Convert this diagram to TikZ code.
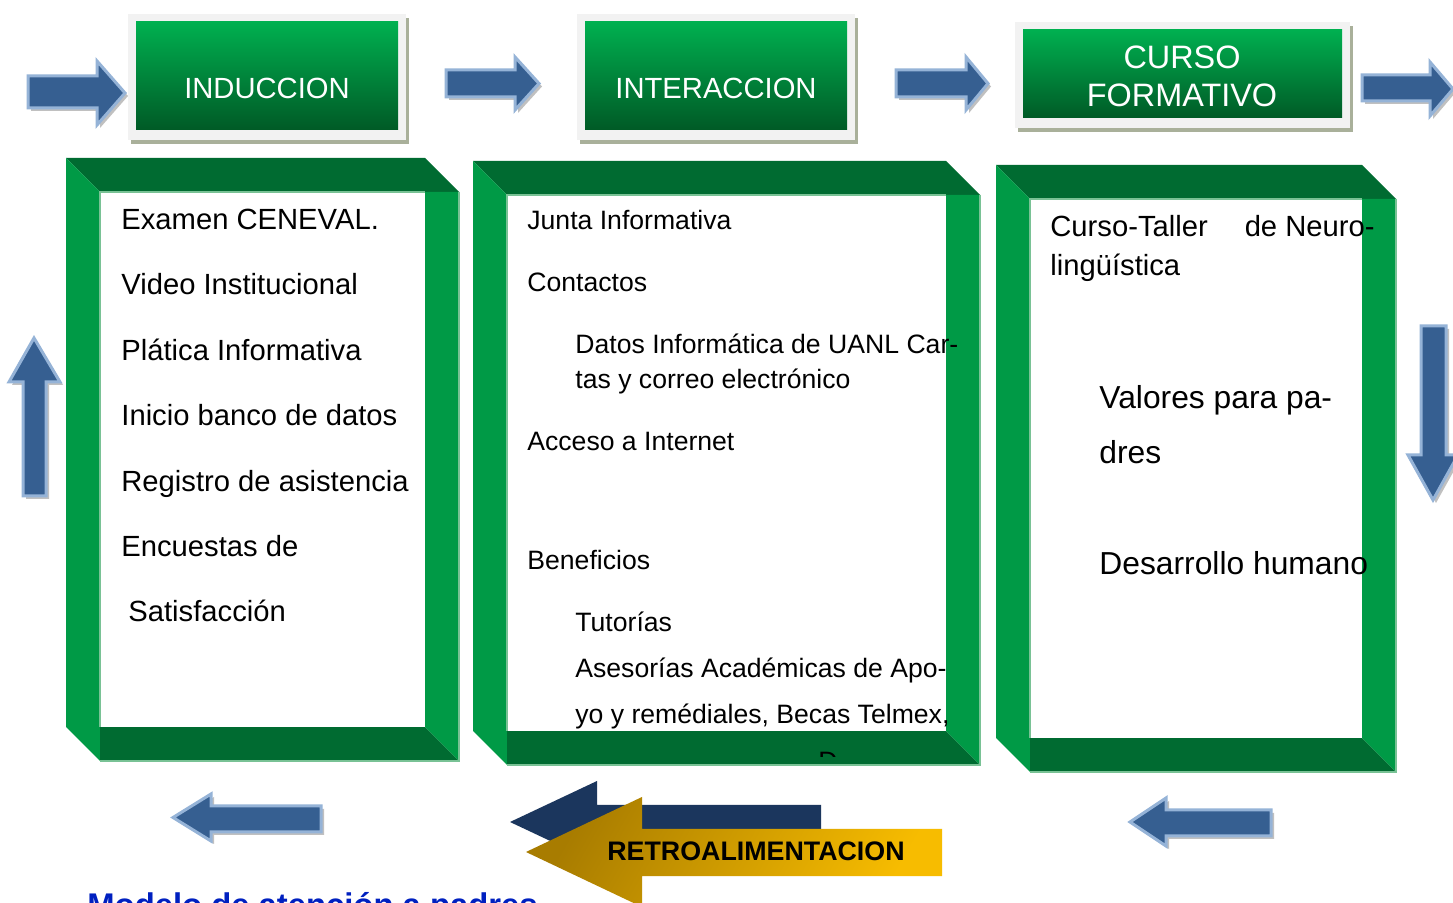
\documentclass[tikz,border=0pt]{standalone}
\usepackage{fontspec}
\setmainfont{Liberation Sans}
\definecolor{gbright}{HTML}{009A46}
\definecolor{gdark}{HTML}{006B31}
\definecolor{gline}{HTML}{79C295}
\definecolor{gtop}{HTML}{00B050}
\definecolor{gbot}{HTML}{005A26}
\definecolor{ablue}{HTML}{365F91}
\definecolor{aedge}{HTML}{95B3D7}
\definecolor{ashadow}{HTML}{A6A6A6}
\definecolor{navy}{HTML}{1B365D}
\definecolor{golddark}{HTML}{A87C00}
\definecolor{goldlight}{HTML}{F7BC00}
\definecolor{titleblue}{HTML}{0020C0}
\definecolor{boxgray}{HTML}{F2F2F2}
\definecolor{boxshadow}{HTML}{A9B09A}
\newcommand{\bevelframe}[5]{%
 \fill[gdark] (#1,#2) -- (#3-#5,#2) -- (#3,#2+#5) -- (#1+#5,#2+#5) -- cycle;
 \fill[gbright] (#1,#2) -- (#1+#5,#2+#5) -- (#1+#5,#4) -- (#1,#4-#5) -- cycle;
 \fill[gdark] (#1+#5,#4-#5) -- (#3-#5,#4-#5) -- (#3,#4) -- (#1+#5,#4) -- cycle;
 \fill[gbright] (#3-#5,#2+#5) -- (#3,#2+#5) -- (#3,#4) -- (#3-#5,#4-#5) -- cycle;
 \fill[white] (#1+#5,#2+#5) rectangle (#3-#5,#4-#5);
 \draw[gline, line width=1pt] (#1+#5,#4-#5) -- (#1+#5,#2+#5) -- (#3-#5,#2+#5);
 \draw[gline, line width=1pt] (#3,#2+#5) -- (#3,#4) -- (#1+#5,#4);
}
\newcommand{\greenbox}[5]{% gray x0 y0 x1 y1 , inset
 \fill[boxshadow] (#1+3,#2+4) rectangle (#3+3,#4+4);
 \fill[boxgray] (#1,#2) rectangle (#3,#4);
 \fill[top color=gtop, bottom color=gbot] (#1+#5,#2+#5) rectangle (#3-#5,#4-#5-2);
}
\tikzset{
 blockarrow/.style={fill=ablue, draw=aedge, line width=1.5pt, line join=miter},
 arrowshadow/.style={fill=ashadow, opacity=0.7},
 lt/.style={anchor=base west, inner sep=0pt, font=\fontsize{14.6}{17}\selectfont},
 mt/.style={anchor=base west, inner sep=0pt, font=\fontsize{13.3}{16}\selectfont},
 rt/.style={anchor=base west, inner sep=0pt, font=\fontsize{15.9}{19}\selectfont},
 boxtext/.style={inner sep=0pt, text=white, align=center, font=\fontsize{14.6}{19}\selectfont},
}
\newcommand{\rarrow}[7]{% x0 xh xt ys1 ys2 yh1 yh2
 \fill[arrowshadow] (#1+3,#4+3) -- (#2+3,#4+3) -- (#2+3,#6+3) -- (#3+3,#6/2+#7/2+3) -- (#2+3,#7+3) -- (#2+3,#5+3) -- (#1+3,#5+3) -- cycle;
 \draw[blockarrow] (#1,#4) -- (#2,#4) -- (#2,#6) -- (#3,#6/2+#7/2) -- (#2,#7) -- (#2,#5) -- (#1,#5) -- cycle;
}
\newcommand{\larrow}[7]{% xend xh xtip ys1 ys2 yh1 yh2
 \fill[arrowshadow] (#1+3,#4+3) -- (#2+3,#4+3) -- (#2+3,#6+3) -- (#3+3,#6/2+#7/2+3) -- (#2+3,#7+3) -- (#2+3,#5+3) -- (#1+3,#5+3) -- cycle;
 \draw[blockarrow] (#1,#4) -- (#2,#4) -- (#2,#6) -- (#3,#6/2+#7/2) -- (#2,#7) -- (#2,#5) -- (#1,#5) -- cycle;
}
\begin{document}
\begin{tikzpicture}[x=0.5pt,y=-0.5pt]
\clip (0,0) rectangle (1453,903);
\fill[white] (0,0) rectangle (1453,903);

% top boxes
\greenbox{128}{14}{406}{140}{8}
\greenbox{577}{14}{855}{140}{8}
\greenbox{1015}{22}{1350}{128}{8}
\node[boxtext] (ind) at (267,88) {INDUCCION};
\node[boxtext] (inter) at (716,88) {INTERACCION};
\node[boxtext, font=\fontsize{16.2}{19}\selectfont] (curso) at (1182,76) {CURSO\\FORMATIVO};

% top arrows
\rarrow{28}{97}{125}{76}{108}{61}{125}
\rarrow{446}{515}{539}{70}{97}{57}{110}
\rarrow{896}{966}{988}{70}{97}{57}{110}
\rarrow{1362}{1430}{1453}{75}{101}{62}{116}

% vertical arrows
\fill[arrowshadow] (26,499) -- (26,385) -- (12,385) -- (37,341) -- (63,385) -- (49,385) -- (49,499) -- cycle;
\draw[blockarrow] (23,496) -- (23,382) -- (9,382) -- (34,338) -- (60,382) -- (46,382) -- (46,496) -- cycle;
\fill[arrowshadow] (1424,329) -- (1449,329) -- (1449,458) -- (1461,458) -- (1436,503) -- (1411,458) -- (1424,458) -- cycle;
\draw[blockarrow] (1421,326) -- (1446,326) -- (1446,455) -- (1458,455) -- (1433,500) -- (1408,455) -- (1421,455) -- cycle;

% frames
\bevelframe{66}{158}{459}{761}{34}
\bevelframe{473}{161}{980}{765}{34}
\bevelframe{996}{165}{1396}{772}{34}

% left texts
\node[lt] (l1) at (121,230) {Examen CENEVAL.};
\node[lt] (l2) at (121,295) {Video Institucional};
\node[lt] (l3) at (121,361) {Plática Informativa};
\node[lt] (l4) at (121,426) {Inicio banco de datos};
\node[lt] (l5) at (121,492) {Registro de asistencia};
\node[lt] (l6) at (121,557) {Encuestas de};
\node[lt] (l7) at (128,622) {Satisfacción};

% middle texts
\node[mt] (m1) at (527,230) {Junta Informativa};
\node[mt] (m2) at (527,292) {Contactos};
\node[mt] (m3) at (575,354) {Datos Informática de UANL Car-};
\node[mt] (m4) at (575,389) {tas y correo electrónico};
\node[mt] (m5) at (527,451) {Acceso a Internet};
\node[mt] (m6) at (527,570) {Beneficios};
\node[mt] (m7) at (575,632) {Tutorías};
\node[mt] (m8) at (575,678) {Asesorías Académicas de Apo-};
\node[mt] (m9) at (575,724) {yo y remédiales, Becas Telmex,};
\begin{scope}
\clip (790,740) rectangle (860,757);
\node[mt] (m10) at (818,770) {D};
\end{scope}

% right texts
\node[lt] (r1a) at (1050,237) {Curso-Taller};
\node[lt, anchor=base east] (r1b) at (1375,237) {de\ Neuro-};
\node[lt] (r2) at (1050,276) {lingüística};
\node[rt] (r3) at (1099,409) {Valores para pa-};
\node[rt] (r4) at (1099,464) {dres};
\node[rt] (r5) at (1099,575) {Desarrollo humano};

% bottom arrows
\larrow{321}{211}{173}{806}{832}{794}{841}
\larrow{1271}{1166}{1130}{810}{836}{798}{846}

% retroalimentacion
\fill[navy] (821,805) -- (597,805) -- (597,781) -- (510,822) -- (597,863) -- (597,839) -- (821,839) -- cycle;
\shade[left color=golddark, right color=goldlight, shading angle=60] (942,829) -- (642,829) -- (642,797) -- (526,852) -- (642,907) -- (642,876) -- (942,876) -- cycle;
\node[inner sep=0pt, font=\bfseries\fontsize{13.4}{16}\selectfont] (retro) at (756,851) {RETROALIMENTACION};

% title
\node[anchor=base west, inner sep=0pt, text=titleblue, font=\bfseries\fontsize{16.4}{20}\selectfont] (title) at (87,916) {Modelo de atención a padres};
\end{tikzpicture}
\end{document}
